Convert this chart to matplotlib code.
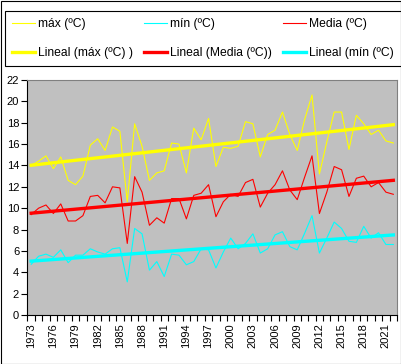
import numpy as np
import matplotlib
matplotlib.use("Agg")
import matplotlib.pyplot as plt
from matplotlib.lines import Line2D
from matplotlib.patches import Rectangle

plt.rcParams.update({"font.family": ["Liberation Sans", "DejaVu Sans"], "font.size": 8})

years = list(range(1973, 2023))
t_max = [14.0, 14.4, 14.9, 13.7, 14.8, 12.6, 12.2, 13.0, 15.9, 16.5,
         15.4, 17.6, 17.2, 10.6, 17.9, 15.8, 12.6, 13.3, 13.5, 16.1,
         16.0, 13.3, 17.5, 16.4, 18.4, 13.9, 15.7, 15.6, 15.8, 18.1,
         17.9, 14.8, 16.9, 17.3, 19.0, 16.9, 15.4, 18.3, 20.6, 13.2,
         16.2, 19.0, 19.0, 15.5, 18.7, 17.9, 16.9, 17.3, 16.3, 16.1]
t_med = [9.4, 10.0, 10.3, 9.5, 10.4, 8.8, 8.8, 9.3, 11.1, 11.2,
         10.5, 12.0, 11.9, 6.7, 12.95, 11.5, 8.4, 9.1, 8.6, 10.9,
         10.9, 9.0, 11.2, 11.4, 12.2, 9.2, 10.6, 11.3, 11.1, 12.4,
         12.7, 10.1, 11.4, 12.2, 13.5, 11.7, 10.8, 12.9, 14.9, 9.5,
         11.5, 13.9, 13.6, 11.1, 12.8, 13.0, 12.0, 12.4, 11.5, 11.3]
t_min = [4.75, 5.5, 5.7, 5.4, 6.1, 4.9, 5.6, 5.6, 6.2, 5.9,
         5.7, 6.2, 6.3, 3.1, 8.1, 7.6, 4.2, 5.0, 3.6, 5.7,
         5.6, 4.7, 5.0, 6.2, 6.1, 4.4, 5.9, 7.2, 6.2, 6.7,
         7.6, 5.8, 6.2, 7.5, 7.8, 6.4, 6.1, 7.65, 9.3, 5.8,
         7.2, 8.7, 8.1, 6.9, 6.8, 8.3, 7.2, 7.7, 6.6, 6.6]
yticks = list(range(0, 23, 2))

x = np.arange(len(years))
W, H = 402, 364
fig = plt.figure(figsize=(W / 100, H / 100), dpi=100)
ax = fig.add_axes([27.5 / W, 1 - 315 / H, (397 - 27.5) / W, (315 - 80) / H])
ax.set_facecolor("#C0C0C0")

ax.plot(x, t_max, color="#FFFF00", lw=0.8)
ax.plot(x, t_min, color="#00FFFF", lw=0.8)
ax.plot(x, t_med, color="#FF0000", lw=0.8)

# linear trends
for vals, c in [(t_max, "#FFFF00"), (t_med, "#FF0000"), (t_min, "#00FFFF")]:
    k, b = np.polyfit(x, vals, 1)
    ax.plot(x, k * x + b, color=c, lw=2.4)

ax.set_xlim(-0.5, len(years) - 0.5)
ax.set_ylim(0, 22)
ax.set_yticks(yticks)
ax.set_xticks(x[::3])
ax.set_xticklabels([str(y) for y in years[::3]])
ax.set_xticks(np.arange(-0.5, len(years), 1), minor=True)
ax.tick_params(axis="x", which="major", length=0, pad=6, labelrotation=90)
ax.tick_params(axis="x", which="minor", length=4, width=0.8, direction="out")
ax.tick_params(axis="y", length=4, width=0.8, pad=2)
for s in ["top", "right"]:
    ax.spines[s].set_color("#808080")
for s in ["left", "bottom"]:
    ax.spines[s].set_color("black")

handles = [
    Line2D([], [], color="#FFFF00", lw=0.8, label="máx (ºC)"),
    Line2D([], [], color="#FFFF00", lw=2.4, label="Lineal (máx (ºC) )"),
    Line2D([], [], color="#00FFFF", lw=0.8, label="mín (ºC)"),
    Line2D([], [], color="#FF0000", lw=2.4, label="Lineal (Media (ºC))"),
    Line2D([], [], color="#FF0000", lw=0.8, label="Media (ºC)"),
    Line2D([], [], color="#00FFFF", lw=2.4, label="Lineal (mín (ºC)"),
]
leg = fig.legend(handles=handles, ncol=3, loc="upper left", fontsize=8.7,
                 bbox_to_anchor=(5 / W, 1 - 66 / H, 396 / W, 55 / H), mode="expand",
                 frameon=True, fancybox=False, edgecolor="black", framealpha=1,
                 handlelength=1.9, handletextpad=0.25, labelspacing=1.35,
                 borderpad=0.62, borderaxespad=0, columnspacing=1.0)
leg.get_frame().set_linewidth(0.8)

fig.patches.append(Rectangle((0.5 / W, 0.5 / H), (W - 1.5) / W, (H - 1.5) / H,
                             transform=fig.transFigure, fill=False, ec="black", lw=0.8))
fig.savefig("out.png", dpi=100)
